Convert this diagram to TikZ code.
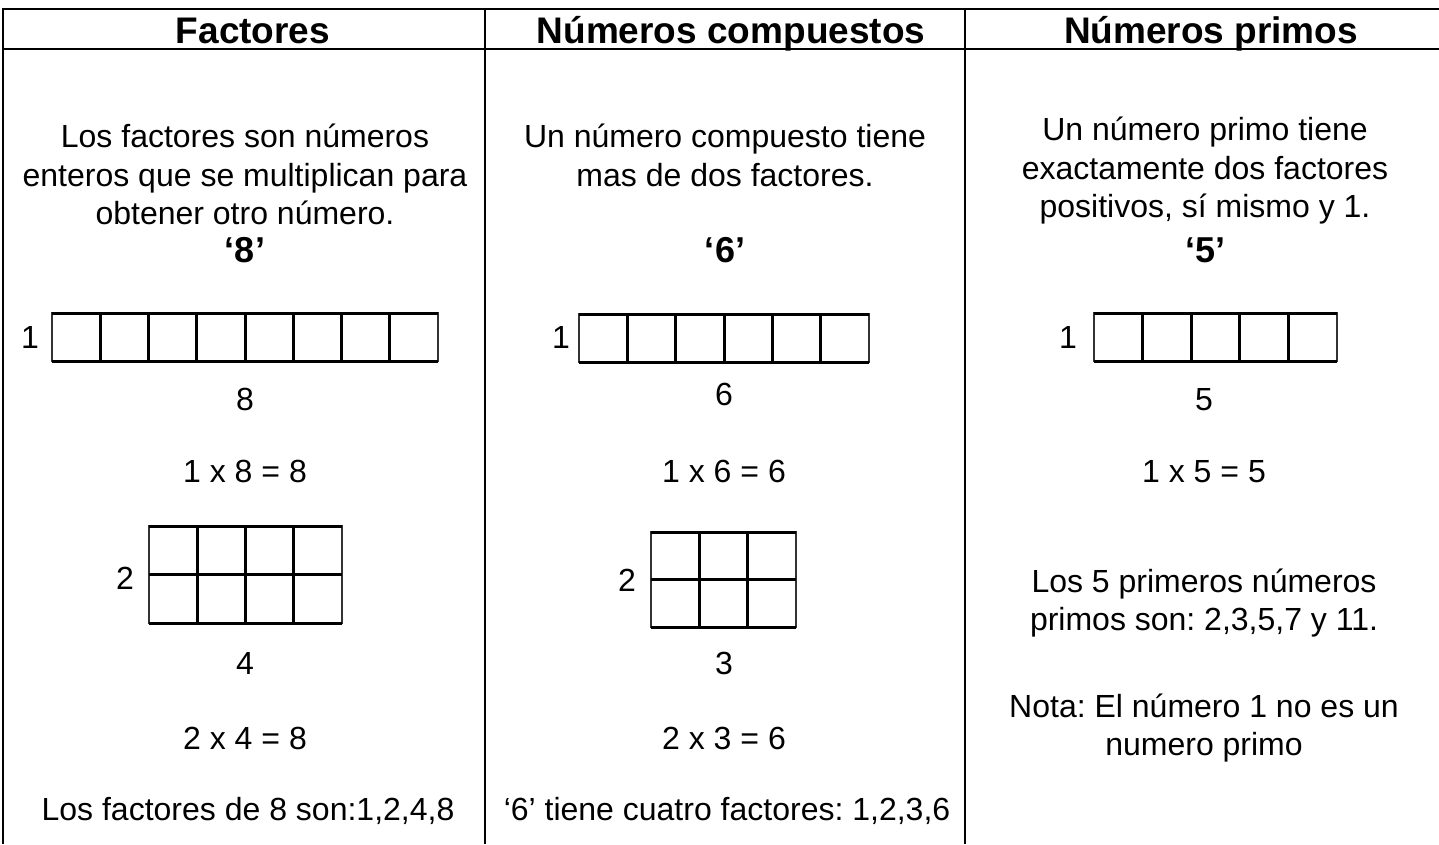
\documentclass[tikz,border=0pt]{standalone}
\usepackage{fontspec}
\setmainfont{Liberation Sans}
\frenchspacing
\begin{document}
\begin{tikzpicture}[x=1pt,y=-1pt,
  tline/.style={line width=2pt,black},
  gouter/.style={line width=2.2pt,black!80},
  ginner/.style={line width=3pt,black},
  hdr/.style={anchor=base,inner sep=0pt,font=\fontsize{37}{40}\selectfont\bfseries\frenchspacing},
  body/.style={anchor=base,inner sep=0pt,font=\fontsize{32}{36}\selectfont\frenchspacing},
  big/.style={anchor=base,inner sep=0pt,font=\fontsize{36}{40}\selectfont\bfseries}]
\useasboundingbox (0,0) rectangle (1439,844);
% table lines
\draw[tline] (3,9) -- (1439,9);
\draw[tline] (3,49) -- (1439,49);
\draw[tline] (3,8) -- (3,844);
\draw[tline] (485,8) -- (485,844);
\draw[tline] (965,8) -- (965,844);
% headers
\node[hdr] (h1) at (253,43) {Factores};
\node[hdr] (h2) at (731,43) {Números compuestos};
\node[hdr] (h3) at (1211,43) {Números primos};
% column 1
\node[body] (a1) at (245,147) {Los factores son números};
\node[body] (a2) at (245,186) {enteros que se multiplican para};
\node[body] (a3) at (245,224) {obtener otro número.};
\node[big] (a4) at (245,262) {‘8’};
\node[body] (a5) at (30,348) {1};
\node[body] (a6) at (245,410) {8};
\node[body] (a7) at (245,482) {1 x 8 = 8};
\node[body] (a8) at (125,589) {2};
\node[body] (a9) at (245,674) {4};
\node[body] (a10) at (245,749) {2 x 4 = 8};
\node[body] (a11) at (248,820) {Los factores de 8 son:1,2,4,8};
% column 2
\node[body] (b1) at (725,147) {Un número compuesto tiene};
\node[body] (b2) at (725,186) {mas de dos factores.};
\node[big] (b4) at (725,262) {‘6’};
\node[body] (b5) at (561,348) {1};
\node[body] (b6) at (724,405) {6};
\node[body] (b7) at (724,482) {1 x 6 = 6};
\node[body] (b8) at (627,591) {2};
\node[body] (b9) at (724,674) {3};
\node[body] (b10) at (724,749) {2 x 3 = 6};
\node[body] (b11) at (727,820) {‘6’ tiene cuatro factores: 1,2,3,6};
% column 3
\node[body] (c1) at (1205,140) {Un número primo tiene};
\node[body] (c2) at (1205,179) {exactamente dos factores};
\node[body] (c3) at (1205,217) {positivos, sí mismo y 1.};
\node[big] (c4) at (1205,262) {‘5’};
\node[body] (c5) at (1068,348) {1};
\node[body] (c6) at (1204,410) {5};
\node[body] (c7) at (1204,482) {1 x 5 = 5};
\node[body] (c8) at (1204,592) {Los 5 primeros números};
\node[body] (c9) at (1204,630) {primos son: 2,3,5,7 y 11.};
\node[body] (c10) at (1204,717) {Nota: El número 1 no es un};
\node[body] (c11) at (1204,755) {numero primo};
% grids: 1 x n rows
\foreach \xa/\xb/\ya/\yb/\n in {52/438/313/361/8, 579/869/314/362/6, 1094/1337/313/361/5}{
  \draw[gouter] (\xa,\ya) rectangle (\xb,\yb);
  \draw[ginner] (\xa,\ya) -- (\xb,\ya) (\xa,\yb) -- (\xb,\yb);
  \pgfmathsetmacro{\w}{(\xb-\xa)/\n}
  \pgfmathtruncatemacro{\m}{\n-1}
  \foreach \i in {1,...,\m}{
    \draw[ginner] ({\xa+\i*\w},\ya) -- ({\xa+\i*\w},\yb);
  }
}
% grids: 2 x n
\foreach \xa/\xb/\ya/\yb/\n in {149/342/526/623/4, 651/796/532/627/3}{
  \draw[gouter] (\xa,\ya) rectangle (\xb,\yb);
  \draw[ginner] (\xa,{(\ya+\yb)/2}) -- (\xb,{(\ya+\yb)/2});
  \pgfmathsetmacro{\w}{(\xb-\xa)/\n}
  \pgfmathtruncatemacro{\m}{\n-1}
  \foreach \i in {1,...,\m}{
    \draw[ginner] ({\xa+\i*\w},\ya) -- ({\xa+\i*\w},\yb);
    \draw[ginner] ({\xa+(\i-1)*\w},\ya) -- ({\xa+(\i+1)*\w},\ya);
    \draw[ginner] ({\xa+(\i-1)*\w},\yb) -- ({\xa+(\i+1)*\w},\yb);
  }
}
\end{tikzpicture}
\end{document}
